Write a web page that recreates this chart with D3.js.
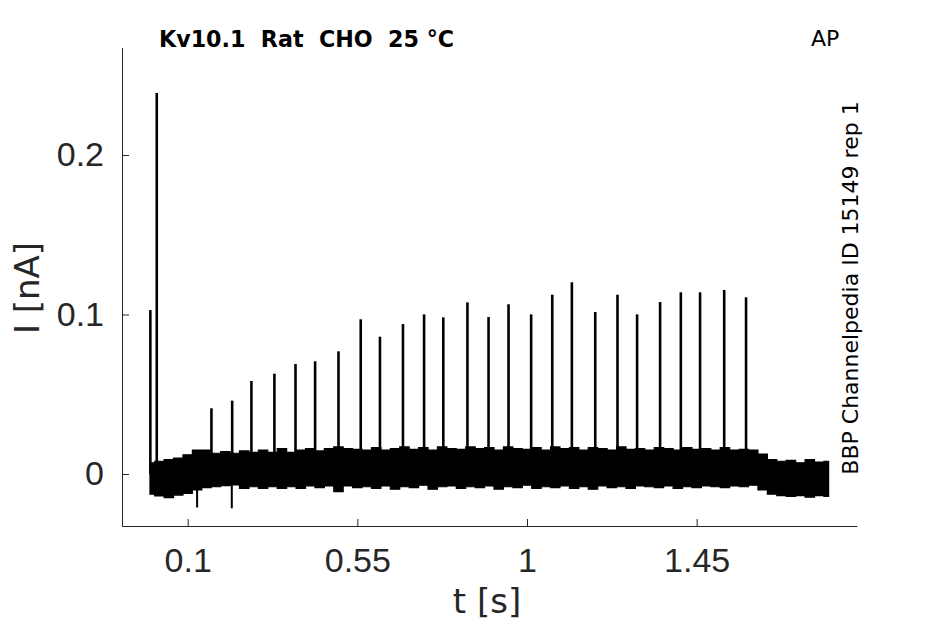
<!DOCTYPE html>
<html>
<head>
<meta charset="utf-8">
<script src="https://cdn.jsdelivr.net/npm/d3@7"></script>
<style>
  body { margin: 0; background: #fff; }
  svg { display: block; font-family: "DejaVu Sans", sans-serif; }
  .axis path, .axis line { stroke: #262626; stroke-width: 1; }
  .axis text { fill: #262626; font-size: 34px; }
</style>
</head>
<body>
<svg id="chart" width="945" height="624"></svg>
<script>
// spike times [s] and peak currents [nA]
const spikeTimes = [0.001, 0.018, 0.163, 0.218, 0.269, 0.330, 0.386, 0.438, 0.500, 0.559,
    0.610, 0.671, 0.727, 0.778, 0.842, 0.898, 0.951, 1.011, 1.067, 1.119,
    1.181, 1.240, 1.292, 1.353, 1.408, 1.459, 1.523, 1.581];
const spikePeaks = [0.1028, 0.2389, 0.0412, 0.0460, 0.0583, 0.0629, 0.0690, 0.0707, 0.0769, 0.0970,
    0.0861, 0.0940, 0.1001, 0.0982, 0.1076, 0.0984, 0.1064, 0.1001, 0.1124, 0.1202,
    0.1016, 0.1124, 0.1001, 0.1078, 0.1139, 0.1139, 0.1154, 0.1108];

// a couple of downward glitches
const dipTimes = [0.125, 0.217];
const dipValues = [-0.021, -0.0215];

// noise band, sampled every 25 ms from 0 to 1.8 s
const bandStep = 0.025;
const bandUpper = [0.007, 0.008, 0.009, 0.010, 0.012, 0.015, 0.015, 0.013, 0.014, 0.013,
    0.0145, 0.0135, 0.015, 0.0135, 0.016, 0.0135, 0.015, 0.016, 0.0145, 0.016,
    0.017, 0.016, 0.0155, 0.015, 0.0165, 0.015, 0.016, 0.017, 0.0155, 0.0165,
    0.015, 0.017, 0.016, 0.0155, 0.017, 0.016, 0.0165, 0.015, 0.017, 0.016,
    0.0155, 0.0165, 0.015, 0.017, 0.016, 0.0165, 0.015, 0.0165, 0.016, 0.015,
    0.017, 0.0155, 0.016, 0.015, 0.0165, 0.016, 0.015, 0.0165, 0.0155, 0.016,
    0.015, 0.0165, 0.015, 0.0155, 0.015, 0.0125, 0.009, 0.008, 0.0085, 0.007,
    0.009, 0.0075, 0.008];
const bandLower = [-0.0127, -0.0138, -0.0148, -0.0132, -0.0121, -0.010, -0.0086, -0.008, -0.0073, -0.0069,
    -0.009, -0.008, -0.009, -0.008, -0.009, -0.008, -0.009, -0.0075, -0.0085, -0.0075,
    -0.011, -0.0075, -0.0085, -0.008, -0.009, -0.0075, -0.0095, -0.008, -0.0085, -0.007,
    -0.0095, -0.008, -0.0075, -0.009, -0.008, -0.0085, -0.0075, -0.0095, -0.008, -0.0085,
    -0.007, -0.009, -0.008, -0.0085, -0.0075, -0.009, -0.008, -0.0095, -0.0075, -0.0085,
    -0.008, -0.009, -0.0075, -0.008, -0.0085, -0.0075, -0.009, -0.008, -0.0085, -0.0075,
    -0.008, -0.0085, -0.0075, -0.008, -0.007, -0.010, -0.0127, -0.0135, -0.014, -0.0135,
    -0.0145, -0.0135, -0.014];

const xTicks = [0.1, 0.55, 1, 1.45];
const yTicks = [0, 0.1, 0.2];

const svg = d3.select("#chart");

const x = d3.scaleLinear().domain([-0.075, 1.875]).range([121.7, 856.9]);
const y = d3.scaleLinear().domain([-0.0326, 0.2674]).range([526, 47.5]);

// noise band as a filled area, stepped so the edge looks ragged like the trace
const band = bandUpper.map((u, i) => ({ t: i * bandStep, hi: u, lo: bandLower[i] }));
svg.append("path")
    .datum(band)
    .attr("d", d3.area().curve(d3.curveStep).x(d => x(d.t)).y0(d => y(d.lo)).y1(d => y(d.hi)))
    .attr("fill", "#000")
    .attr("stroke", "#000")
    .attr("stroke-width", 1.2);

// spikes
svg.append("g")
    .selectAll("line")
    .data(spikeTimes.map((t, i) => ({ t: t, v: spikePeaks[i] })))
    .join("line")
    .attr("x1", d => x(d.t)).attr("x2", d => x(d.t))
    .attr("y1", y(0)).attr("y2", d => y(d.v))
    .attr("stroke", "#000")
    .attr("stroke-width", 2.6);

svg.append("g")
    .selectAll("line")
    .data(dipTimes.map((t, i) => ({ t: t, v: dipValues[i] })))
    .join("line")
    .attr("x1", d => x(d.t)).attr("x2", d => x(d.t))
    .attr("y1", y(0)).attr("y2", d => y(d.v))
    .attr("stroke", "#000")
    .attr("stroke-width", 2);

// axes
svg.append("g")
    .attr("class", "axis")
    .attr("transform", "translate(0,526)")
    .call(d3.axisBottom(x).tickValues(xTicks).tickFormat(d3.format("")).tickSizeInner(-7).tickSizeOuter(0).tickPadding(22));

svg.append("g")
    .attr("class", "axis")
    .attr("transform", "translate(122,0)")
    .call(d3.axisLeft(y).tickValues(yTicks).tickFormat(d3.format("")).tickSizeInner(-7).tickSizeOuter(0).tickPadding(18));

// labels
svg.append("text")
    .attr("x", 487).attr("y", 613)
    .attr("text-anchor", "middle")
    .attr("fill", "#262626").attr("font-size", 34)
    .text("t [s]");

svg.append("text")
    .attr("transform", "translate(39,288) rotate(-90)")
    .attr("text-anchor", "middle")
    .attr("fill", "#262626").attr("font-size", 34)
    .text("I [nA]");

svg.append("text")
    .attr("x", 159).attr("y", 47)
    .attr("font-size", 22.2).attr("font-weight", "bold")
    .style("white-space", "pre")
    .text("Kv10.1  Rat  CHO  25 °C");

svg.append("text")
    .attr("x", 811).attr("y", 46)
    .attr("font-size", 22)
    .text("AP");

svg.append("text")
    .attr("transform", "translate(858,288) rotate(-90)")
    .attr("text-anchor", "middle")
    .attr("font-size", 22)
    .text("BBP Channelpedia ID 15149 rep 1");
</script>
</body>
</html>
